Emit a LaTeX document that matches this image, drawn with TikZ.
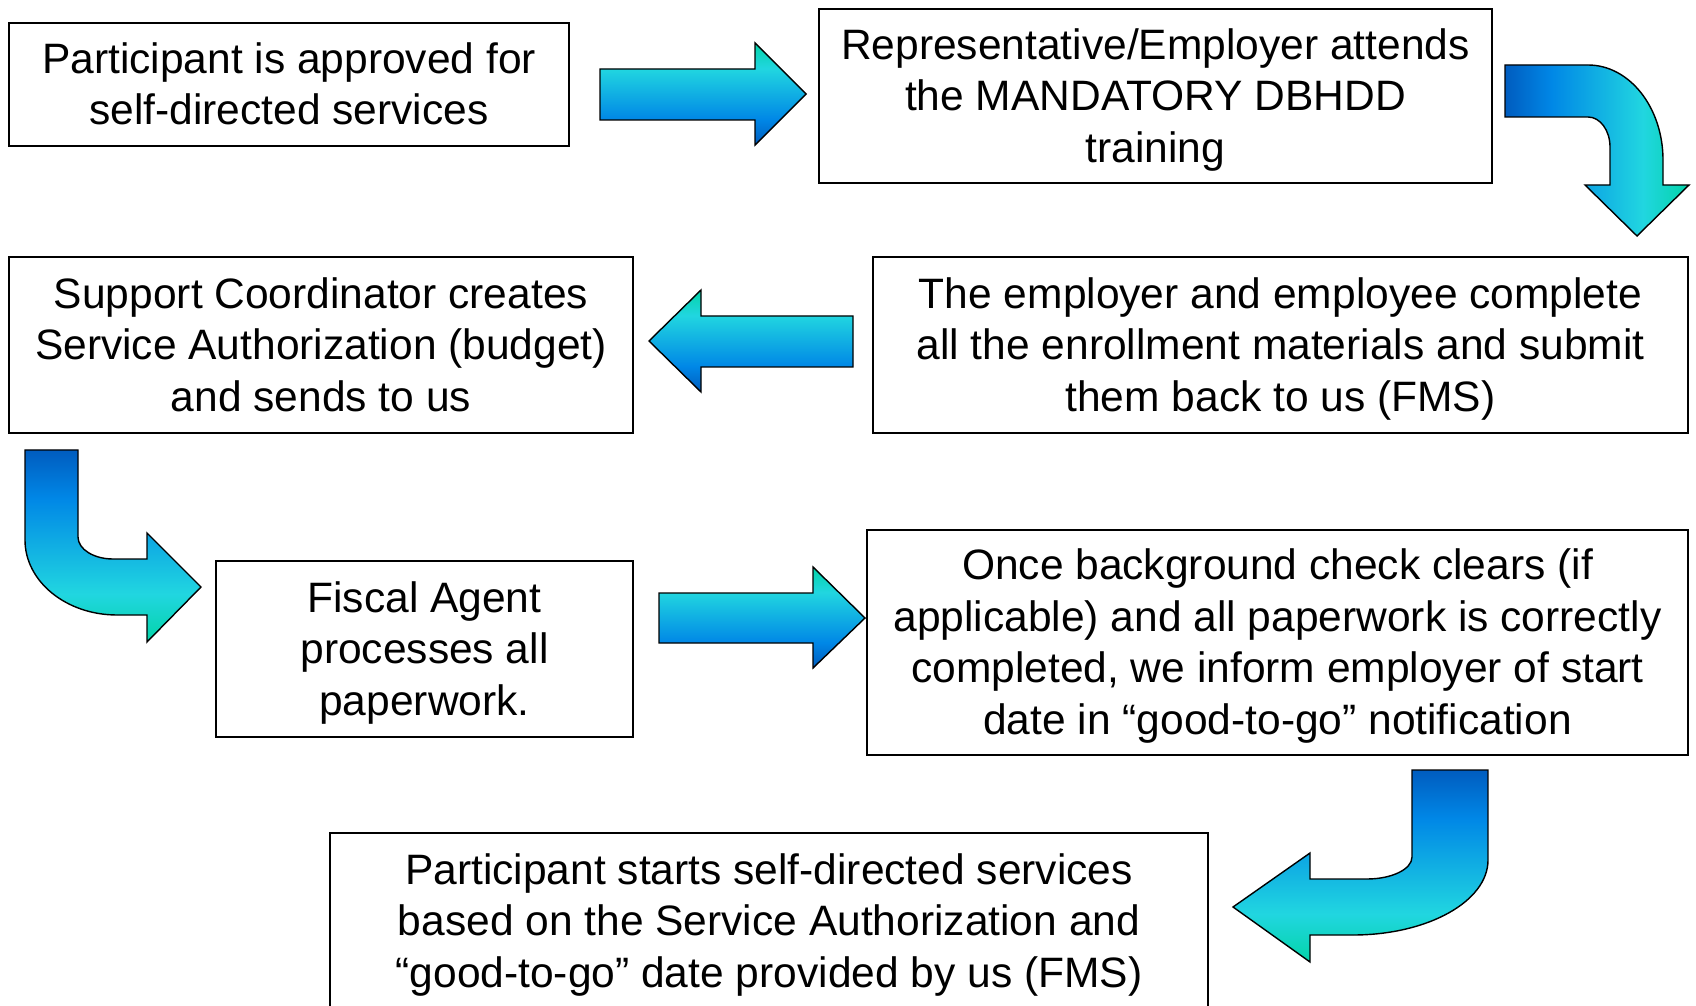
\documentclass[tikz,border=0pt]{standalone}
\usepackage{fontspec}
\setmainfont{Liberation Sans}
\usepackage{xcolor}
\usetikzlibrary{positioning}

% Ocean gradient for the block arrows
\definecolor{oceanteal}{HTML}{03D4A8}
\definecolor{oceancyan}{HTML}{21D6E0}
\definecolor{oceanblue}{HTML}{0087E6}
\definecolor{oceandeep}{HTML}{005CBF}
\pgfdeclarehorizontalshading{ocean}{100bp}{color(0bp)=(oceanteal); color(25bp)=(oceanteal);
  color(37.5bp)=(oceancyan); color(62.5bp)=(oceanblue); color(75bp)=(oceandeep); color(100bp)=(oceandeep)}

\begin{document}
\begin{tikzpicture}[x=0.02cm, y=-0.02cm,
    stepbox/.style={draw=black, line width=1.1pt, fill=white, align=center, inner sep=0pt,
        text depth=1pt, font=\fontsize{24.2}{29.3}\selectfont},
    flowarrow/.style={draw=black, line width=0.8pt, shade, shading=ocean, line join=miter}]
    \useasboundingbox (0,0) rectangle (1696,1006);
    \clip (0,0) rectangle (1696,1006);

    % Steps of the process
    \node[stepbox, minimum width=11.2cm, minimum height=2.46cm] (approved) at (289,84.5)
        {Participant is approved for\\self-directed services};
    \node[stepbox, minimum width=13.46cm, minimum height=3.48cm] (training) at (1155.5,96)
        {Representative/Employer attends\\the MANDATORY DBHDD\\training};
    \node[stepbox, minimum width=16.3cm, minimum height=3.52cm] (enroll) at (1280.5,345)
        {The employer and employee complete\\all the enrollment materials and submit\\them back to us (FMS)};
    \node[stepbox, minimum width=12.48cm, minimum height=3.52cm] (budget) at (321,345)
        {Support Coordinator creates\\Service Authorization (budget)\\and sends to us};
    \node[stepbox, minimum width=8.34cm, minimum height=3.52cm] (fiscal) at (424.5,649)
        {Fiscal Agent\\processes all\\paperwork.};
    \node[stepbox, minimum width=16.42cm, minimum height=4.5cm] (cleared) at (1277.5,642.5)
        {Once background check clears (if\\applicable) and all paperwork is correctly\\completed, we inform employer of start\\date in “good-to-go” notification};
    \node[stepbox, minimum width=17.56cm, minimum height=3.52cm] (start) at (769,921)
        {Participant starts self-directed services\\based on the Service Authorization and\\“good-to-go” date provided by us (FMS)};

    % Straight arrows
    \path[flowarrow, shading angle=-90] (600,69) -- (755,69) -- (755,43) -- (806,94)
        -- (755,145) -- (755,120) -- (600,120) -- cycle;
    \path[flowarrow, shading angle=-90] (853,316) -- (701,316) -- (701,290) -- (649,341)
        -- (701,392) -- (701,367) -- (853,367) -- cycle;
    \path[flowarrow, shading angle=-90] (659,593) -- (813,593) -- (813,567) -- (865,618)
        -- (813,668) -- (813,643) -- (659,643) -- cycle;

    % Bent arrows
    \path[flowarrow, shading angle=180] (1505,65) -- (1588,65)
        arc[start angle=-90, end angle=0, x radius=75, y radius=95] -- (1663,185)
        -- (1689,185) -- (1637,236) -- (1585,185) -- (1610,185) -- (1610,147)
        arc[start angle=0, end angle=-90, x radius=22, y radius=30] -- (1505,117) -- cycle;
    \path[flowarrow, shading angle=90] (25,450) -- (78,450) -- (78,537)
        arc[start angle=180, end angle=90, x radius=35, y radius=22] -- (147,559)
        -- (147,533) -- (201,587) -- (147,642) -- (147,615) -- (117,615)
        arc[start angle=90, end angle=180, x radius=92, y radius=75] -- cycle;
    \path[flowarrow, shading angle=90] (1412,770) -- (1488,770) -- (1488,860)
        arc[start angle=0, end angle=90, x radius=135, y radius=75] -- (1310,935)
        -- (1310,962) -- (1233,907) -- (1310,853) -- (1310,879) -- (1367,879)
        arc[start angle=90, end angle=0, x radius=45, y radius=22] -- cycle;
\end{tikzpicture}
\end{document}
